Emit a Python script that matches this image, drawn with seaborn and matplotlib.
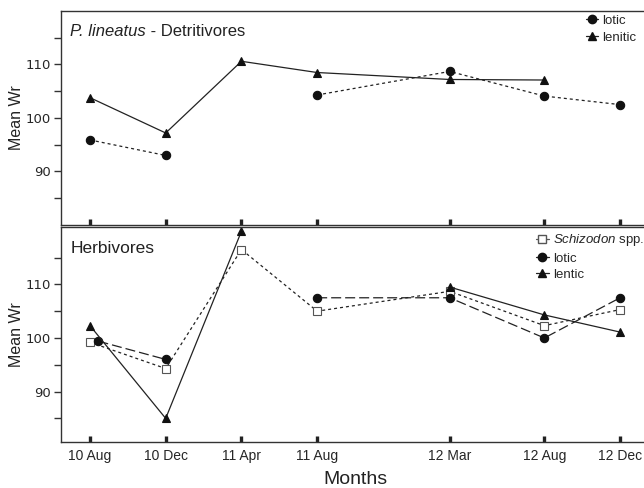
import numpy as np
import pandas as pd
import seaborn as sns
import matplotlib.pyplot as plt
from matplotlib.lines import Line2D

# sampling months, placed on a month scale (months since Aug 2010)
months = ["10 Aug", "10 Dec", "11 Apr", "11 Aug", "12 Mar", "12 Aug", "12 Dec"]
month_pos = [0, 4, 8, 12, 19, 24, 28]

# P. lineatus - detritivores
det_lotic = [95.9, 93.0, np.nan, 104.3, 108.7, 104.1, 102.5]
det_lentic = [103.8, 97.2, 110.6, 108.5, 107.2, 107.1, np.nan]

# herbivores
herb_schizodon = [99.2, 94.3, 116.5, 105.0, 108.7, 102.3, 105.3]
herb_lotic = [99.4, 96.0, np.nan, 107.5, 107.5, 100.0, 107.5]
herb_lentic = [102.3, 85.0, 119.9, np.nan, 109.5, 104.3, 101.1]
# first lotic point is drawn a little to the right in the original
herb_lotic_pos = [0.45, 4, 8, 12, 19, 24, 28]

INK = "#222222"
DOTTED = (0, (2.4, 2.4))
DASHED = (0, (8, 3.2))

sns.set_style("ticks", {"axes.edgecolor": "#333333"})
plt.rcParams["font.family"] = ["Liberation Sans", "DejaVu Sans"]
plt.rcParams["mathtext.fontset"] = "custom"
plt.rcParams["mathtext.it"] = "Liberation Sans:italic"
plt.rcParams["mathtext.rm"] = "Liberation Sans"


def draw(ax, x, y, ls, marker, ms, mfc="#111111", mec="#111111"):
    # split at missing values so the line breaks there
    df = pd.DataFrame({"x": x, "y": y})
    df["seg"] = df["y"].isna().cumsum()
    df = df.dropna()
    sns.lineplot(data=df, x="x", y="y", units="seg", estimator=None, ax=ax,
                 color=INK, linestyle=ls, lw=0.9, marker=marker, markersize=ms,
                 markerfacecolor=mfc, markeredgecolor=mec, markeredgewidth=0.8,
                 legend=False)


def style_axes(ax, ylim, show_xlabels):
    ax.set_xlim(-1.53, 29.58)
    ax.set_ylim(*ylim)
    ax.set_xticks(month_pos)
    ax.set_xticklabels(months if show_xlabels else [])
    ax.set_yticks([90, 100, 110])
    ax.set_yticks([85, 95, 105, 115], minor=True)
    ax.tick_params(axis="x", direction="in", length=4, width=2.4, color="#222222",
                   labelsize=10, pad=5, labelbottom=show_xlabels)
    ax.tick_params(axis="y", which="both", direction="out", length=5, width=1,
                   color="#333333", pad=2)
    for lab in ax.get_yticklabels():
        lab.set_fontfamily("DejaVu Sans")
        lab.set_fontsize(9.5)
    for sp in ax.spines.values():
        sp.set_linewidth(1.0)
    ax.set_xlabel("")
    ax.set_ylabel("Mean Wr", fontsize=11.5, color="#222222")
    ax.yaxis.set_label_coords(-0.062, 0.5)


fig = plt.figure(figsize=(6.44, 4.88), dpi=100)
ax1 = fig.add_axes([61 / 644, 1 - 225 / 488, 589 / 644, 214 / 488])
ax2 = fig.add_axes([61 / 644, 1 - 442 / 488, 589 / 644, 215 / 488])

# top panel
draw(ax1, month_pos, det_lotic, DOTTED, "o", 6)
draw(ax1, month_pos, det_lentic, "-", "^", 5.5)
style_axes(ax1, (80, 120), False)
t1 = ax1.text(0.016, 0.905, "P. lineatus", transform=ax1.transAxes, fontsize=12,
              style="italic", va="center", ha="left", color="#222222")
ax1.annotate(" - Detritivores", xy=(1, 0), xycoords=t1, va="bottom", ha="left",
             fontsize=12, color="#222222")
h_top = [
    Line2D([], [], color=INK, lw=0.9, marker="o", ms=6, mfc="#111111", mec="#111111"),
    Line2D([], [], color=INK, lw=0.9, marker="^", ms=5.5, mfc="#111111", mec="#111111"),
]
ax1.legend(h_top, ["lotic", "lenitic"], loc="upper left", bbox_to_anchor=(0.891, 0.982),
           frameon=False, fontsize=9.5, handlelength=0.9, handletextpad=0.3,
           borderpad=0, borderaxespad=0, labelspacing=0.35)

# bottom panel
draw(ax2, month_pos, herb_schizodon, DOTTED, "s", 5.5, mfc="white", mec="#555555")
draw(ax2, herb_lotic_pos, herb_lotic, DASHED, "o", 6)
draw(ax2, month_pos, herb_lentic, "-", "^", 5.5)
style_axes(ax2, (80.6, 120.7), True)
ax2.set_xlabel("Months", fontsize=14, color="#222222")
ax2.xaxis.set_label_coords(0.5, -0.135)
ax2.text(0.016, 0.9, "Herbivores", transform=ax2.transAxes,
         fontsize=12.5, va="center", ha="left", color="#222222")
h_bot = [
    Line2D([], [], color="#555555", lw=0.9, marker="s", ms=5.5, mfc="white", mec="#555555"),
    Line2D([], [], color=INK, lw=0.9, marker="o", ms=6, mfc="#111111", mec="#111111"),
    Line2D([], [], color=INK, lw=0.9, marker="^", ms=5.5, mfc="#111111", mec="#111111"),
]
ax2.legend(h_bot, [r"$\it{Schizodon}$ spp.", "lotic", "lentic"], loc="upper left",
           bbox_to_anchor=(0.806, 0.975), frameon=False, fontsize=9.5, handlelength=1.0,
           handletextpad=0.3, borderpad=0, borderaxespad=0, labelspacing=0.3)

fig.savefig("out.png", dpi=100)
